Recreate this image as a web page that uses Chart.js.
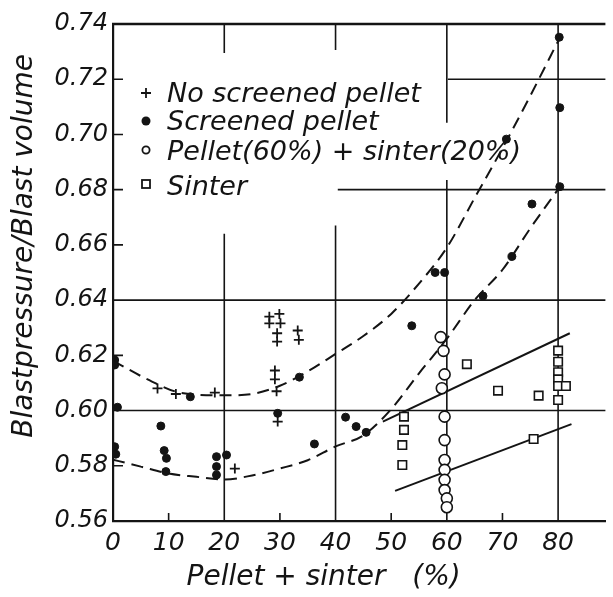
<!DOCTYPE html>
<html><head><meta charset="utf-8">
<script src="https://cdn.jsdelivr.net/npm/chart.js@4/dist/chart.umd.min.js"></script>
<style>html,body{margin:0;padding:0;background:#fff}</style>
</head><body>
<canvas id="c" width="613" height="597" style="display:block;width:613px;height:597px"></canvas>
<script>
// ---- data ----
const noScreenedX = [8.0, 11.3, 18.3, 21.9, 28.1, 29.9, 28.1, 30.1, 29.5, 29.5, 33.2, 33.4, 29.1, 29.1, 29.4, 29.6];
const noScreenedY = [0.608, 0.606, 0.6065, 0.579, 0.634, 0.635, 0.6316, 0.6316, 0.628, 0.625, 0.629, 0.6256, 0.6145, 0.6113, 0.607, 0.596];

const screenedX = [0.3, 0.3, 0.8, 0.3, 0.5, 8.6, 9.2, 9.6, 9.5, 13.9, 18.6, 20.4, 18.6, 18.6, 29.6, 33.5, 36.2, 41.8, 43.7, 45.5, 53.7, 57.9, 59.6, 66.5, 70.7, 71.7, 75.3, 80.2, 80.3, 80.3];
const screenedY = [0.6183, 0.6165, 0.6012, 0.5869, 0.5842, 0.5944, 0.5855, 0.5827, 0.5779, 0.605, 0.5833, 0.5839, 0.5797, 0.5767, 0.599, 0.6121, 0.5879, 0.5976, 0.5942, 0.5921, 0.6307, 0.650, 0.650, 0.6415, 0.6983, 0.6558, 0.6748, 0.7352, 0.7097, 0.6811];

const pelletSinterX = [58.9, 59.4, 59.6, 59.1, 59.6, 59.6, 59.6, 59.6, 59.6, 59.6, 60.0, 60.0];
const pelletSinterY = [0.6266, 0.6216, 0.6131, 0.6081, 0.5978, 0.5893, 0.5821, 0.5785, 0.5749, 0.5712, 0.5682, 0.565];

const sinterX = [52.3, 52.3, 52.0, 52.0, 63.6, 69.2, 75.6, 76.5, 80.0, 80.0, 80.0, 80.0, 80.0, 81.4, 80.0];
const sinterY = [0.5978, 0.593, 0.5875, 0.5803, 0.6168, 0.6072, 0.5897, 0.6054, 0.6217, 0.6177, 0.6139, 0.6113, 0.6089, 0.6089, 0.6038];

// fitted curves drawn in the figure
const upperCurveX = [0, 7, 12, 20, 25, 30, 34, 40, 45, 50, 55, 60, 65, 70, 75, 80.3];
const upperCurveY = [0.618, 0.6105, 0.6065, 0.6055, 0.606, 0.609, 0.613, 0.6205, 0.627, 0.635, 0.646, 0.659, 0.677, 0.695, 0.714, 0.735];
const lowerCurveX = [0, 5, 10, 15, 20, 25, 30, 35, 40, 45, 50, 55, 60, 65, 70, 75, 80.3];
const lowerCurveY = [0.5822, 0.5797, 0.5772, 0.576, 0.575, 0.5765, 0.579, 0.582, 0.587, 0.591, 0.6005, 0.6135, 0.626, 0.640, 0.651, 0.666, 0.681];
const sinterUpperX = [48.5, 82.1];
const sinterUpperY = [0.596, 0.628];
const sinterLowerX = [50.7, 82.4];
const sinterLowerY = [0.5709, 0.5951];

// axis ticks
const xTicks = [0, 10, 20, 30, 40, 50, 60, 70, 80];
const yTicks = [0.56, 0.58, 0.60, 0.62, 0.64, 0.66, 0.68, 0.70, 0.72, 0.74];
const xLabel = 'Pellet + sinter   (%)';
const yLabel = 'Blastpressure/Blast volume';

// ---- styling / layout ----
const INK = '#141414';
const FONT = '"DejaVu Sans", sans-serif';
const vGrid = [
  {v: 20, spans: [[0.56, 0.664], [0.7295, 0.74]]},
  {v: 40, spans: [[0.56, 0.667], [0.7306, 0.74]]},
  {v: 60, spans: [[0.56, 0.6835], [0.7042, 0.74]]},
  {v: 80, spans: [[0.56, 0.74]]}
];
const hGrid = [
  {v: 0.60, spans: [[0, 100]]},
  {v: 0.64, spans: [[0, 100]]},
  {v: 0.68, spans: [[40.4, 100]]},
  {v: 0.72, spans: [[60.2, 100]]}
];
const yMinorTicks = [0.58, 0.62, 0.66, 0.68, 0.70, 0.72];
const xMinorTicks = [10, 30, 50, 70];

const pts = (xs, ys) => xs.map((x, i) => ({x: x, y: ys[i]}));

const paperPlugin = {
  id: 'paper',
  beforeDatasetsDraw(chart) {
    const {ctx, chartArea: a, scales: {x, y}} = chart;
    ctx.save();
    ctx.strokeStyle = INK;
    ctx.lineWidth = 1.6;
    ctx.beginPath();
    vGrid.forEach(g => {
      const px = x.getPixelForValue(g.v);
      g.spans.forEach(s => { ctx.moveTo(px, y.getPixelForValue(s[0])); ctx.lineTo(px, y.getPixelForValue(s[1])); });
    });
    hGrid.forEach(g => {
      const py = y.getPixelForValue(g.v);
      g.spans.forEach(s => {
        ctx.moveTo(Math.max(a.left, x.getPixelForValue(s[0])), py);
        ctx.lineTo(Math.min(a.right, x.getPixelForValue(s[1])), py);
      });
    });
    yMinorTicks.forEach(v => { const py = y.getPixelForValue(v); ctx.moveTo(a.left, py); ctx.lineTo(a.left + 10, py); });
    xMinorTicks.forEach(v => { const px = x.getPixelForValue(v); ctx.moveTo(px, a.bottom); ctx.lineTo(px, a.bottom - 8); });
    ctx.stroke();
    // top frame line
    ctx.lineWidth = 2.4;
    ctx.beginPath();
    ctx.moveTo(a.left - 1, a.top); ctx.lineTo(a.right, a.top);
    ctx.stroke();
    ctx.restore();
  },
  afterDatasetsDraw(chart) {
    const {ctx, chartArea: a} = chart;
    const items = chart.data.datasets.slice(0, 4);
    const mx = a.left + 33, tx = a.left + 54;
    const rows = [{m: 93, b: 102}, {m: 121, b: 130}, {m: 150, b: 160}, {m: 184, b: 195}];
    ctx.save();
    ctx.fillStyle = INK; ctx.strokeStyle = INK;
    ctx.font = 'italic 27px ' + FONT;
    ctx.textBaseline = 'alphabetic';
    items.forEach((d, i) => {
      const r = rows[i];
      ctx.beginPath();
      if (i === 0) { ctx.lineWidth = 1.8; ctx.moveTo(mx - 5, r.m); ctx.lineTo(mx + 5, r.m); ctx.moveTo(mx, r.m - 5); ctx.lineTo(mx, r.m + 5); ctx.stroke(); }
      else if (i === 1) { ctx.arc(mx, r.m, 4.5, 0, Math.PI * 2); ctx.fill(); }
      else if (i === 2) { ctx.lineWidth = 1.8; ctx.arc(mx, r.m, 3.6, 0, Math.PI * 2); ctx.stroke(); }
      else { ctx.lineWidth = 1.8; ctx.strokeRect(mx - 4, r.m - 4, 8, 8); }
      ctx.fillText(d.label, tx, r.b);
    });
    ctx.restore();
  }
};

// shift the axis titles to where the reference puts them
const titleShift = {
  id: 'titleShift',
  afterDraw() {}
};

const markerBase = {showLine: false, borderColor: INK, order: 1};
const lineBase = {showLine: true, pointRadius: 0, borderColor: INK, borderWidth: 2, fill: false, order: 2};

new Chart(document.getElementById('c'), {
  type: 'scatter',
  data: {
    datasets: [
      Object.assign({label: 'No screened pellet', data: pts(noScreenedX, noScreenedY), pointStyle: 'cross', pointRadius: 5, borderWidth: 1.8}, markerBase),
      Object.assign({label: 'Screened pellet', data: pts(screenedX, screenedY), pointStyle: 'circle', pointRadius: 4, backgroundColor: INK, borderWidth: 1}, markerBase),
      Object.assign({label: 'Pellet(60%) + sinter(20%)', data: pts(pelletSinterX, pelletSinterY), pointStyle: 'circle', pointRadius: 5.5, backgroundColor: '#fff', borderWidth: 1.6}, markerBase),
      Object.assign({label: 'Sinter', data: pts(sinterX, sinterY), pointStyle: 'rect', pointRadius: 6, backgroundColor: '#fff', borderWidth: 1.6}, markerBase),
      Object.assign({label: 'upper fit', data: pts(upperCurveX, upperCurveY), borderDash: [12, 7], cubicInterpolationMode: 'monotone'}, lineBase),
      Object.assign({label: 'lower fit', data: pts(lowerCurveX, lowerCurveY), borderDash: [12, 7], cubicInterpolationMode: 'monotone'}, lineBase),
      Object.assign({label: 'sinter upper', data: pts(sinterUpperX, sinterUpperY)}, lineBase),
      Object.assign({label: 'sinter lower', data: pts(sinterLowerX, sinterLowerY)}, lineBase)
    ]
  },
  options: {
    responsive: false,
    animation: false,
    devicePixelRatio: 1,
    events: [],
    layout: {padding: {top: 24, right: 0, left: 0, bottom: 0}},
    plugins: {legend: {display: false}, tooltip: {enabled: false}},
    scales: {
      x: {
        type: 'linear', min: 0, max: 88.5,
        afterBuildTicks(s) { s.ticks = xTicks.map(v => ({value: v})); },
        afterFit(s) { s.height = 76; },
        grid: {display: false, drawTicks: false},
        border: {display: true, color: INK, width: 2.2},
        ticks: {color: INK, font: {family: FONT, size: 25, style: 'italic'}, padding: 7, maxRotation: 0, autoSkip: false,
          callback: v => String(v)},
        title: {display: true, text: xLabel + '        ', color: INK, font: {family: FONT, size: 28, style: 'italic'}, padding: {top: 0, bottom: 2}}
      },
      y: {
        type: 'linear', min: 0.56, max: 0.74,
        afterBuildTicks(s) { s.ticks = yTicks.map(v => ({value: v})); },
        afterFit(s) { s.width = 113; },
        grid: {display: false, drawTicks: false},
        border: {display: true, color: INK, width: 2.2},
        ticks: {color: INK, font: {family: FONT, size: 24, style: 'italic'}, padding: 5, autoSkip: false,
          callback: v => Number(v).toFixed(2)},
        title: {display: true, text: '      ' + yLabel, color: INK, font: {family: FONT, size: 28, style: 'italic'}, padding: {top: 8, bottom: 0}}
      }
    }
  },
  plugins: [paperPlugin]
});
</script>
</body></html>
